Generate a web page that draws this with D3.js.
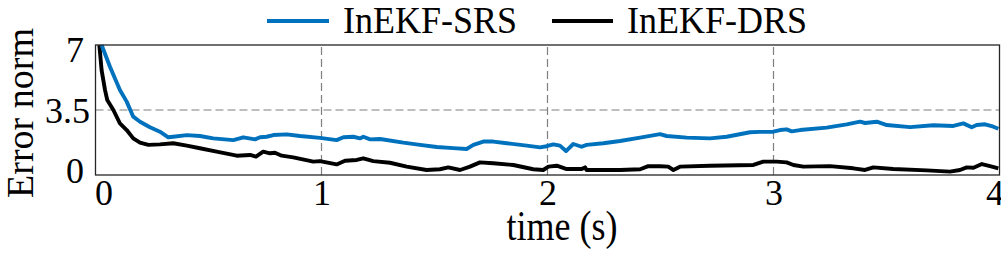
<!DOCTYPE html>
<html><head><meta charset="utf-8">
<script src="https://cdn.jsdelivr.net/npm/d3@7"></script>
<style>body{margin:0;background:#fff;} svg{display:block;}</style>
</head><body>
<script>
const seriesNames = ["InEKF-SRS", "InEKF-DRS"];
const seriesColors = ["#0072BD", "#000000"];
const xTicks = [0, 1, 2, 3, 4];
const yTicks = [0, 3.5, 7];
const yTickLabels = ["0", "3.5", "7"];
const xLabel = "time (s)";
const yLabel = "Error norm";

const srsT = [0.027,0.064,0.108,0.138,0.167,0.197,0.241,0.285,0.322,0.344,0.404,0.462,0.521,0.61,0.654,0.706,0.728,0.757,0.787,0.846,0.905,0.993,1.067,1.097,1.141,1.17,1.185,1.215,1.259,1.362,1.436,1.51,1.583,1.642,1.672,1.716,1.76,1.82,1.908,1.967,1.996,2.026,2.055,2.082,2.114,2.151,2.173,2.247,2.321,2.41,2.498,2.527,2.616,2.719,2.793,2.896,2.94,2.999,3.029,3.058,3.081,3.117,3.235,3.324,3.383,3.405,3.457,3.501,3.604,3.707,3.796,3.84,3.877,3.899,3.936,3.973,3.995];
const srsV = [7.0,5.83,4.58,3.95,3.14,2.87,2.57,2.33,2.03,2.06,2.15,2.10,1.97,1.88,2.03,1.92,2.03,2.06,2.15,2.19,2.10,2.0,1.88,2.03,2.06,1.97,2.06,1.92,1.94,1.74,1.62,1.51,1.45,1.40,1.62,1.80,1.80,1.71,1.58,1.49,1.55,1.65,1.58,1.29,1.67,1.52,1.62,1.71,1.83,2.01,2.20,2.10,2.01,1.97,2.06,2.30,2.32,2.33,2.42,2.46,2.35,2.42,2.55,2.73,2.87,2.80,2.87,2.69,2.58,2.68,2.64,2.78,2.57,2.69,2.73,2.60,2.49];
const drsT = [0.017,0.027,0.042,0.052,0.079,0.108,0.138,0.167,0.197,0.234,0.285,0.344,0.404,0.462,0.536,0.625,0.684,0.71,0.742,0.772,0.794,0.824,0.875,0.964,0.993,1.067,1.104,1.156,1.185,1.229,1.303,1.377,1.465,1.524,1.561,1.613,1.657,1.701,1.76,1.849,1.937,1.981,2.004,2.041,2.085,2.151,2.166,2.173,2.321,2.41,2.446,2.498,2.534,2.557,2.586,2.719,2.911,2.955,3.014,3.058,3.088,3.132,3.25,3.353,3.405,3.442,3.53,3.678,3.781,3.825,3.855,3.885,3.922,3.958,3.995];
const drsV = [7.0,5.65,4.58,4.04,3.5,2.78,2.42,1.97,1.74,1.62,1.65,1.71,1.58,1.44,1.26,1.04,1.08,0.99,1.26,1.17,1.2,1.04,0.95,0.72,0.75,0.57,0.77,0.81,0.90,0.75,0.66,0.45,0.27,0.31,0.41,0.27,0.45,0.68,0.63,0.54,0.31,0.27,0.45,0.50,0.32,0.32,0.41,0.27,0.27,0.31,0.48,0.47,0.45,0.27,0.45,0.50,0.54,0.72,0.72,0.68,0.54,0.45,0.48,0.36,0.27,0.41,0.32,0.25,0.18,0.27,0.41,0.39,0.59,0.48,0.36];

const W = 1001, H = 254;
const FONT = "Liberation Serif";
const m = {left: 95.5, right: 1.5, top: 45, bottom: 79};
const svg = d3.select("body").append("svg").attr("width", W).attr("height", H).attr("font-family", FONT);

const x = d3.scaleLinear().domain([0, 4]).range([m.left, W - m.right]);
const y = d3.scaleLinear().domain([0, 7]).range([H - m.bottom, m.top]);

// grid
const g = svg.append("g");
g.selectAll("line.gx").data(xTicks.filter(d => d > 0 && d < 4)).enter().append("line")
  .attr("x1", d => x(d)).attr("x2", d => x(d)).attr("y1", y(0)).attr("y2", y(7))
  .attr("stroke", "#7f7f7f").attr("stroke-width", 1.2).attr("stroke-dasharray", "8,4");
g.selectAll("line.gy").data(yTicks.filter(d => d > 0 && d < 7)).enter().append("line")
  .attr("x1", x(0)).attr("x2", x(4)).attr("y1", d => y(d)).attr("y2", d => y(d))
  .attr("stroke", "#7f7f7f").attr("stroke-width", 1.2).attr("stroke-dasharray", "8,4");

// lines
const line = d3.line().x(d => x(d[0])).y(d => y(d[1])).curve(d3.curveLinear);
const dataSets = [d3.zip(srsT, srsV), d3.zip(drsT, drsV)];
svg.append("path").datum(dataSets[1]).attr("d", line).attr("fill", "none")
  .attr("stroke", seriesColors[1]).attr("stroke-width", 3.9).attr("stroke-linejoin", "round");
svg.append("path").datum(dataSets[0]).attr("d", line).attr("fill", "none")
  .attr("stroke", seriesColors[0]).attr("stroke-width", 3.9).attr("stroke-linejoin", "round");

// box
svg.append("rect").attr("x", x(0)).attr("y", y(7)).attr("width", x(4) - x(0)).attr("height", y(0) - y(7))
  .attr("fill", "none").attr("stroke", "#262626").attr("stroke-width", 1.3);

// x axis
const xAxis = d3.axisBottom(x).tickValues(xTicks).tickSize(0).tickPadding(2).tickFormat(d3.format("d"));
const gx = svg.append("g").attr("transform", `translate(0,${y(0)})`).call(xAxis);
gx.attr("font-family", FONT).attr("font-size", 36);
gx.select(".domain").remove();
gx.selectAll("text").attr("font-family", FONT).attr("font-size", 36).attr("fill", "#000").attr("dy", "0.78em")
  .attr("dx", d => d === 0 ? 8 : (d === 4 ? -5 : 0));

// y axis
const yAxis = d3.axisLeft(y).tickValues(yTicks).tickSize(0).tickPadding(5.5).tickFormat((d, i) => yTickLabels[i]);
const gy = svg.append("g").attr("transform", `translate(${x(0)},0)`).call(yAxis);
gy.attr("font-family", FONT).attr("font-size", 36);
gy.select(".domain").remove();
gy.selectAll("text").attr("font-family", FONT).attr("font-size", 36).attr("fill", "#000")
  .attr("dy", d => d === 7 ? "0.47em" : (d === 0 ? "0.22em" : "0.34em"))
  .attr("dx", d => d === 3.5 ? 0 : -6);

// labels
svg.append("text").attr("transform", "translate(562,240) scale(1,1.15)").attr("text-anchor", "middle")
  .attr("font-family", FONT).attr("font-size", 36).text(xLabel);
svg.append("text").attr("transform", `translate(33,113) rotate(-90)`).attr("text-anchor", "middle")
  .attr("font-family", FONT).attr("font-size", 38).text(yLabel);

// legend
const leg = [{x1: 267, x2: 329, tx: 343}, {x1: 552, x2: 613, tx: 627}];
leg.forEach((L, i) => {
  svg.append("line").attr("x1", L.x1).attr("x2", L.x2).attr("y1", 21).attr("y2", 21)
    .attr("stroke", seriesColors[i]).attr("stroke-width", 4);
  svg.append("text").attr("transform", `translate(${L.tx},33) scale(1,1.08)`)
    .attr("font-family", FONT).attr("font-size", 36).text(seriesNames[i]);
});
</script>
</body></html>
